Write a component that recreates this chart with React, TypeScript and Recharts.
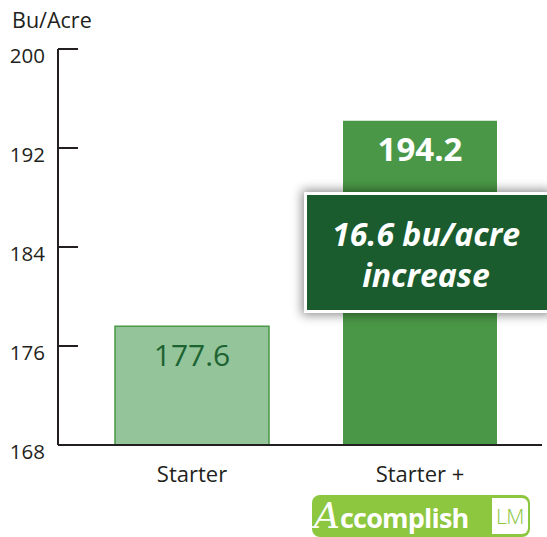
import React from "react";
import { BarChart, Bar, XAxis, YAxis, Cell, LabelList } from "recharts";

const categories = ["Starter", "Starter +"];
const yields = [177.6, 194.2];
const yTicks = [168, 176, 184, 192, 200];
const yLabel = "Bu/Acre";
const calloutLines = ["16.6 bu/acre", "increase"];

const data = categories.map((name, i) => ({ name, value: yields[i] }));

const FONT = "'Open Sans', 'Noto Sans', sans-serif";
const INK = "#231f20";
const fills = ["#93c49a", "#4a9847"];
const labelColors = ["#1d6331", "#ffffff"];
const labelWeights = [400, 700];

const YTick = (props: any) => {
  const { x, y, payload } = props;
  return (
    <g>
      <line x1={x} x2={x + 20} y1={y} y2={y} stroke={INK} strokeWidth={2} />
      <text
        x={x - 13}
        y={y + 7}
        dy="0.355em"
        textAnchor="end"
        fontFamily={FONT}
        fontSize={20.5}
        fill={INK}
      >
        {payload.value}
      </text>
    </g>
  );
};

const XTick = (props: any) => {
  const { x, payload } = props;
  return (
    <text
      x={x}
      y={482}
      textAnchor="middle"
      fontFamily={FONT}
      fontSize={22}
      fill={INK}
    >
      {payload.value}
    </text>
  );
};

const BarValue = (props: any) => {
  const { x, y, width, index, value } = props;
  return (
    <text
      x={x + width / 2}
      y={y + 29}
      dy="0.355em"
      textAnchor="middle"
      fontFamily={FONT}
      fontSize={index === 0 ? 30 : 33}
      fontWeight={labelWeights[index]}
      fill={labelColors[index]}
    >
      {value}
    </text>
  );
};

export default function App() {
  return (
    <div
      style={{
        position: "absolute",
        left: 0,
        top: 0,
        width: 547,
        height: 537,
        overflow: "hidden",
        background: "#fff",
        fontFamily: FONT,
      }}
    >
      <div
        style={{
          position: "absolute",
          left: 12,
          top: 5,
          fontSize: 21.5,
          color: INK,
          fontFamily: FONT,
        }}
      >
        {yLabel}
      </div>
      <BarChart
        width={547}
        height={537}
        data={data}
        margin={{ top: 49, right: 5, bottom: 52, left: 0 }}
        style={{ position: "absolute", left: 0, top: 0 }}
      >
        <YAxis
          type="number"
          domain={[168, 200]}
          ticks={yTicks}
          width={58}
          tickSize={0}
          tickMargin={0}
          tickLine={false}
          axisLine={{ stroke: INK, strokeWidth: 2 }}
          tick={<YTick />}
          interval={0}
          allowDataOverflow
        />
        <XAxis
          dataKey="name"
          height={40}
          padding={{ left: 20, right: 8 }}
          tickLine={false}
          axisLine={{ stroke: INK, strokeWidth: 2 }}
          tick={<XTick />}
          interval={0}
        />
        <Bar dataKey="value" barSize={154} isAnimationActive={false}>
          {data.map((d, i) => (
            <Cell
              key={d.name}
              fill={fills[i]}
              stroke={i === 0 ? "#4a9847" : "none"}
              strokeWidth={1.5}
            />
          ))}
          <LabelList dataKey="value" content={<BarValue />} />
        </Bar>
      </BarChart>

      {/* callout */}
      <div
        style={{
          position: "absolute",
          left: 304,
          top: 192,
          width: 246,
          height: 121,
          boxSizing: "border-box",
          background: "#1b5c2e",
          border: "3px solid #fff",
          boxShadow: "0 0 10px 2px rgba(0,0,0,0.45)",
          display: "flex",
          flexDirection: "column",
          alignItems: "center",
          justifyContent: "center",
          color: "#fff",
          fontFamily: FONT,
          fontWeight: 700,
          fontStyle: "italic",
          fontSize: 32,
          lineHeight: "41px",
          paddingRight: 2,
          paddingTop: 2,
        }}
      >
        {calloutLines.map((t) => (
          <div key={t}>{t}</div>
        ))}
      </div>

      {/* logo */}
      <div
        style={{
          position: "absolute",
          left: 312,
          top: 495,
          width: 218,
          height: 42,
          background: "#8dc63f",
          borderRadius: 8,
          display: "flex",
          alignItems: "center",
        }}
      >
        <div
          style={{
            flex: "0 0 176px",
            display: "flex",
            alignItems: "baseline",
            color: "#fff",
            whiteSpace: "nowrap",
            paddingLeft: 2,
            height: 42,
            lineHeight: "42px",
          }}
        >
          <span
            style={{
              fontFamily: "'DejaVu Serif', serif",
              fontStyle: "italic",
              fontSize: 36,
            }}
          >
            A
          </span>
          <span
            style={{
              fontFamily: FONT,
              fontWeight: 700,
              fontSize: 27,
              letterSpacing: -0.8,
            }}
          >
            ccomplish
          </span>
        </div>
        <div
          style={{
            marginLeft: 2,
            width: 36,
            height: 36,
            background: "#fff",
            borderRadius: "0 6px 6px 0",
            color: "#8dc63f",
            fontFamily: FONT,
            fontWeight: 300,
            fontSize: 21,
            display: "flex",
            alignItems: "center",
            justifyContent: "center",
            letterSpacing: -0.5,
          }}
        >
          LM
        </div>
      </div>
    </div>
  );
}
